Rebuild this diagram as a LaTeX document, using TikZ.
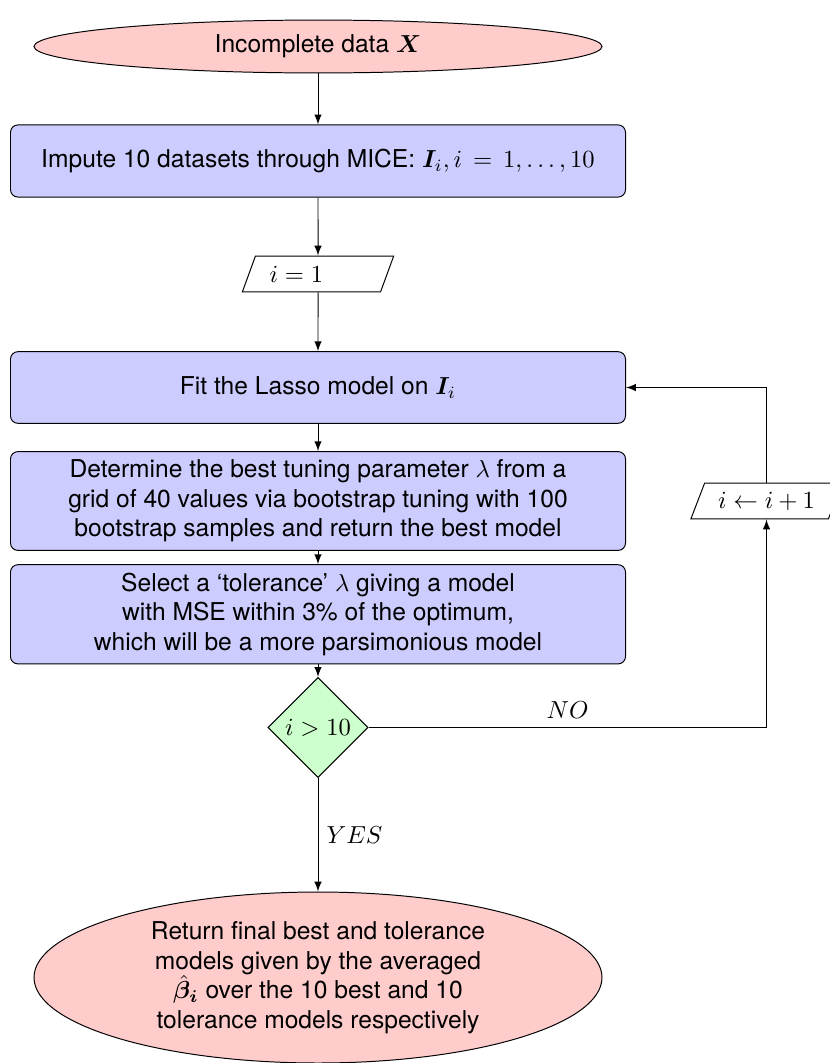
\documentclass[tikz,border=0pt]{standalone}
\usepackage{fontspec}
\setmainfont{TeX Gyre Heros}
\usepackage{bm}
\usetikzlibrary{shapes.geometric,arrows}
\tikzset{
  startstop/.style={ellipse, draw, fill=red!20, inner sep=1pt, align=center},
  process/.style={rectangle, rounded corners=3pt, draw, fill=blue!20, minimum width=250pt, align=center},
  io/.style={trapezium, trapezium left angle=70, trapezium right angle=110, trapezium stretches=true,
    draw, fill=white, minimum width=61.8pt, minimum height=14.6pt, text width=39.3pt, align=left},
  decision/.style={diamond, draw, fill=green!20, inner sep=0pt, aspect=1, minimum width=40.7pt, minimum height=40.7pt},
  arr/.style={-latex}
}
\begin{document}
\begin{tikzpicture}[x=0.4065pt,y=-0.4065pt]
\useasboundingbox (0,0) rectangle (830,1063);
\node[startstop, minimum width=230.9pt, minimum height=21.5pt] (start) at (318,46.5) {Incomplete data $\bm{X}$};
\node[process, minimum height=29.3pt] (impute) at (318,161) {Impute 10 datasets through MICE: $\bm{I}_i, i\,=\,1,\ldots,10$};
\node[io] (i1) at (318,274) {$i=1$};
\node[process, minimum height=29.1pt] (fit) at (318,387.5) {Fit the Lasso model on $\bm{I}_i$};
\node[process, minimum height=39.3pt] (det) at (318,501) {Determine the best tuning parameter $\lambda$ from a\\grid of 40 values via bootstrap tuning with 100\\bootstrap samples and return the best model};
\node[process, minimum height=39.3pt] (sel) at (318,614.3) {Select a `tolerance' $\lambda$ giving a model\\with MSE within 3\% of the optimum,\\which will be a more parsimonious model};
\node[decision] (dec) at (318,727.5) {$i>10$};
\node[io] (inc) at (766.5,501) {$i\leftarrow i+1$};
\node[startstop, minimum width=230.9pt, minimum height=69.5pt] (stop) at (318,977.5) {Return final best and tolerance\\models given by the averaged\\$\hat{\bm{\beta}}_{\bm{i}}$ over the 10 best and 10\\tolerance models respectively};
\coordinate (corner) at (dec.east -| inc.south);
\draw[arr] (start) -- (impute);
\draw[arr] (impute) -- (i1);
\draw[arr] (i1) -- (fit);
\draw[arr] (fit) -- (det);
\draw[arr] (det) -- (sel);
\draw[arr] (sel) -- (dec);
\draw[arr] (dec) -- node[right]{$YES$} (stop);
\draw[arr] (dec.east) -- node[above]{$NO$} (corner) -- (inc.south);
\draw[arr] (inc.north) |- (fit.east);
\end{tikzpicture}
\end{document}
